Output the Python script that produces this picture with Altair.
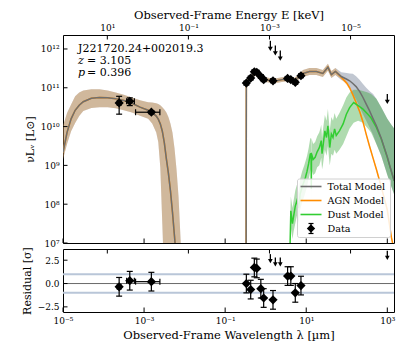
import math
import altair as alt
import pandas as pd

FONT = "DejaVu Serif"

# ---------------- data (log10 of wavelength [µm] and of nuL_nu [L_sun]) ----------------
# X-ray model segment (total model == AGN model here)
xray_loglam = [-5.0, -4.9, -4.8, -4.7, -4.6, -4.5, -4.3, -4.1, -3.9, -3.7, -3.5, -3.3, -3.1,
               -2.9, -2.8, -2.7, -2.65, -2.6, -2.55, -2.5, -2.45, -2.4, -2.35, -2.3, -2.25,
               -2.2, -2.15, -2.1, -2.05]
xray_total = [9.33, 9.85, 10.2, 10.42, 10.55, 10.64, 10.73, 10.75, 10.74, 10.72, 10.67, 10.60, 10.50,
              10.42, 10.36, 10.27, 10.19, 10.07, 9.88, 9.58, 9.17, 8.8, 8.35, 7.8, 7.18,
              6.5, 6.0, 6.0, 6.0]
xray_lo = [9.16, 9.55, 9.88, 10.09, 10.27, 10.40, 10.48, 10.50, 10.50, 10.47, 10.42, 10.36, 10.28,
           10.2, 10.08, 9.85, 9.6, 8.95, 7.49, 6.0, 6.0, 6.0, 6.0, 6.0, 6.0,
           6.0, 6.0, 6.0, 6.0]
xray_hi = [10.02, 10.35, 10.57, 10.78, 10.88, 10.93, 10.96, 10.96, 10.93, 10.88, 10.82, 10.75, 10.68,
           10.63, 10.62, 10.6, 10.58, 10.55, 10.5, 10.44, 10.36, 10.25, 10.08, 9.85, 9.45,
           8.9, 8.2, 7.1, 6.0]

# UV-optical-IR model segment
ir_loglam = [-0.485, -0.477, -0.42, -0.35, -0.3, -0.25, -0.2, -0.1, 0.0, 0.1, 0.2, 0.3, 0.4,
             0.5, 0.6, 0.7, 0.8, 0.92, 1.08, 1.25, 1.41, 1.535, 1.62, 1.72, 1.865,
             2.0, 2.07, 2.15, 2.23, 2.32, 2.40, 2.48, 2.56, 2.65, 2.73, 2.85, 3.0, 3.1, 3.17]
ir_total = [5.0, 11.12, 11.20, 11.28, 11.34, 11.37, 11.33, 11.25, 11.21, 11.19, 11.18, 11.19, 11.21,
            11.22, 11.20, 11.19, 11.27, 11.37, 11.42, 11.42, 11.37, 11.53, 11.34, 11.42, 11.29,
            11.22, 11.18, 11.11, 11.03, 10.90, 10.75, 10.58, 10.41, 10.20, 10.02, 9.70, 9.22, 8.85, 8.60]
ir_total_hi = [5.0, 11.18, 11.26, 11.34, 11.40, 11.43, 11.39, 11.31, 11.27, 11.25, 11.24, 11.25, 11.27,
               11.28, 11.26, 11.25, 11.33, 11.46, 11.51, 11.51, 11.46, 11.62, 11.43, 11.51, 11.40,
               11.38, 11.37, 11.36, 11.30, 11.20, 11.10, 11.00, 10.92, 10.84, 10.72, 10.50, 10.20, 10.05, 9.95]
ir_total_lo = [5.0, 11.06, 11.14, 11.22, 11.28, 11.31, 11.27, 11.19, 11.15, 11.13, 11.12, 11.13, 11.15,
               11.16, 11.14, 11.13, 11.21, 11.28, 11.33, 11.33, 11.28, 11.44, 11.25, 11.33, 11.20,
               11.12, 11.00, 10.85, 10.70, 10.50, 10.32, 10.15, 9.98, 9.78, 9.55, 9.25, 8.75, 8.45, 8.25]
ir_agn = [5.0, 11.12, 11.20, 11.28, 11.34, 11.37, 11.33, 11.25, 11.21, 11.19, 11.18, 11.19, 11.21,
          11.22, 11.20, 11.19, 11.27, 11.37, 11.42, 11.42, 11.37, 11.53, 11.34, 11.42, 11.27,
          11.12, 11.00, 10.82, 10.62, 10.38, 10.12, 9.80, 9.50, 9.18, 8.90, 8.45, 7.85, 7.15, 6.80]
ir_agn_hi = [5.0, 11.18, 11.26, 11.34, 11.40, 11.43, 11.39, 11.31, 11.27, 11.25, 11.24, 11.25, 11.27,
             11.28, 11.26, 11.25, 11.33, 11.46, 11.51, 11.51, 11.46, 11.62, 11.43, 11.51, 11.32,
             11.17, 11.05, 10.87, 10.67, 10.43, 10.17, 9.85, 9.55, 9.23, 8.95, 8.50, 7.90, 7.20, 6.85]
ir_agn_lo = [5.0, 11.06, 11.14, 11.22, 11.28, 11.31, 11.27, 11.19, 11.15, 11.13, 11.12, 11.13, 11.15,
             11.16, 11.14, 11.13, 11.21, 11.28, 11.33, 11.33, 11.28, 11.44, 11.25, 11.33, 11.22,
             11.07, 10.95, 10.77, 10.57, 10.33, 10.07, 9.75, 9.45, 9.13, 8.85, 8.40, 7.80, 7.10, 6.75]

# dust model
dust_loglam = [0.60, 0.62, 0.66, 0.69, 0.73, 0.77, 0.81, 0.85, 0.90, 0.95, 0.98, 1.02, 1.06, 1.10,
               1.12, 1.125, 1.13, 1.17, 1.22, 1.27, 1.32, 1.35, 1.37, 1.39, 1.41, 1.46, 1.50, 1.535,
               1.58, 1.62, 1.66, 1.70, 1.74, 1.82, 1.91, 1.99, 2.07, 2.17, 2.28, 2.40, 2.52, 2.60,
               2.73, 2.85, 3.0, 3.1, 3.17]
dust_val = [6.9, 7.83, 7.5, 7.70, 7.95, 8.09, 7.9, 8.26, 8.45, 8.6, 8.69, 8.85, 9.05, 9.29,
            9.3, 8.4, 9.3, 9.15, 9.21, 9.35, 9.45, 9.55, 9.64, 9.3, 9.46, 9.89, 9.72, 10.02,
            9.46, 9.81, 9.72, 9.94, 9.77, 9.89, 10.07, 10.32, 10.49, 10.62, 10.54, 10.45, 10.32, 10.22,
            9.98, 9.68, 9.2, 8.84, 8.6]
dust_lo = [6.5, 7.4, 7.1, 7.3, 7.5, 7.7, 7.5, 7.85, 8.05, 8.2, 8.3, 8.45, 8.65, 8.85,
           8.9, 8.0, 8.9, 8.75, 8.8, 8.95, 9.0, 9.1, 9.2, 8.9, 9.0, 9.4, 9.25, 9.5,
           9.0, 9.3, 9.25, 9.4, 9.3, 9.4, 9.55, 9.75, 9.95, 10.1, 10.15, 10.1, 9.95, 9.85,
           9.55, 9.25, 8.75, 8.45, 8.25]
dust_hi = [7.5, 8.2, 7.9, 8.1, 8.35, 8.5, 8.3, 8.65, 8.85, 9.0, 9.1, 9.25, 9.45, 9.7,
           9.7, 8.8, 9.7, 9.55, 9.6, 9.75, 9.85, 9.95, 10.05, 9.7, 9.9, 10.3, 10.15, 10.45,
           9.9, 10.25, 10.15, 10.35, 10.2, 10.35, 10.55, 10.75, 10.88, 10.95, 10.95, 10.92, 10.88, 10.84,
           10.72, 10.5, 10.2, 10.05, 9.95]

# photometric detections
det_loglam = [-3.615, -3.353, -2.82, -0.477, -0.37, -0.28, -0.22, -0.12, -0.05, 0.18, 0.54, 0.62, 0.73, 0.87]
det_logL = [10.61, 10.65, 10.37, 11.12, 11.25, 11.41, 11.40, 11.29, 11.21, 11.18, 11.24, 11.21, 11.14, 11.31]
det_logL_lo = [10.32, 10.54, 10.33, 11.07, 11.20, 11.36, 11.35, 11.24, 11.16, 11.13, 11.19, 11.16, 11.09, 11.26]
det_logL_hi = [10.78, 10.74, 10.41, 11.17, 11.30, 11.46, 11.45, 11.34, 11.26, 11.23, 11.29, 11.26, 11.19, 11.36]
det_resid = [-0.35, 0.3, 0.2, 0.0, -0.65, 1.72, 1.62, -0.55, -1.55, -1.75, 0.8, 0.8, -1.0, -0.22]
det_resid_err = [1.0] * 14
# X-ray band widths (log10 wavelength limits)
xerr_logL = [10.61, 10.65, 10.37]
xerr_resid = [-0.35, 0.3, 0.2]
xerr_lo = [-3.66, -3.43, -3.21]
xerr_hi = [-3.57, -3.24, -2.61]

# upper limits
ul_loglam = [0.115, 0.238, 0.36, 3.0]
ul_logL = [12.21, 12.09, 11.96, 10.84]
ul_resid = [3.15, 2.8, 2.8, 3.5]

# axis ticks / labels
lam_decades = [-5, -3, -1, 1, 3]
lum_decades = [7, 8, 9, 10, 11, 12]
energy_decades = [1, -1, -3, -5]       # keV
resid_ticks = [-2.5, 0.0, 2.5]
HC_KEV_UM = 1.23984e-3                 # E[keV] * lambda[um]

legend_labels = ["Total Model", "AGN Model", "Dust Model", "Data"]
legend_colors = ["#6f6f6f", "#ff8c00", "#32cd32"]

source_name = "J221720.24+002019.3"
redshift = "3.105"
pvalue = "0.396"

# ---------------- helpers ----------------
SUP = {'-': '⁻', '0': '⁰', '1': '¹', '2': '²', '3': '³', '4': '⁴',
       '5': '⁵', '6': '⁶', '7': '⁷', '8': '⁸', '9': '⁹'}


def pow10(n):
    return '10' + ''.join(SUP[c] for c in str(n))


def label_expr(pairs):
    expr = "''"
    for e, lab in reversed(pairs):
        expr = f"round(log(datum.value)/LN10) == {e} ? '{lab}' : {expr}"
    return expr


def p10(v):
    return [10 ** x for x in v]


W, H1, H2 = 331, 208, 63
TL = 4.5  # inward tick length

xscale = alt.Scale(type='log', domain=[1e-5, 10 ** 3.165], nice=False)
yscale = alt.Scale(type='log', domain=[1e7, 10 ** 12.36], nice=False)
rscale = alt.Scale(domain=[-3.05, 3.7], nice=False, zero=False)

energy_lam = [HC_KEV_UM / 10 ** e for e in energy_decades]
energy_pairs = [(round(math.log10(l)), pow10(e)) for l, e in zip(energy_lam, energy_decades)]

axis_common = dict(ticks=False, tickSize=0, domain=False, grid=False, labelOverlap=False,
                   labelFlush=False, labelFont=FONT, titleFont=FONT, labelFontSize=9,
                   labelColor='black', titleColor='black', titleFontWeight='normal')

top_axis = alt.Axis(orient='top', values=energy_lam, labelExpr=label_expr(energy_pairs),
                    title='Observed-Frame Energy E [keV]', labelPadding=3, titlePadding=3,
                    titleFontSize=11.5, **axis_common)
ymain_axis = alt.Axis(values=p10(lum_decades),
                      labelExpr=label_expr([(d, pow10(d)) for d in lum_decades]),
                      title='νLᵥ [L⊙]', labelPadding=4, titlePadding=5, titleFontSize=11,
                      **axis_common)
bottom_axis = alt.Axis(orient='bottom', values=p10(lam_decades),
                       labelExpr=label_expr([(d, pow10(d)) for d in lam_decades]),
                       title='Observed-Frame Wavelength λ [µm]', labelPadding=4, titlePadding=4,
                       titleFontSize=11.5, **axis_common)
yres_axis = alt.Axis(values=resid_ticks, labelExpr="replace(format(datum.value, '.1f'), '-', '−')",
                     title='Residual [σ]', labelPadding=4, titlePadding=5, titleFontSize=11,
                     **axis_common)


def XM(f):
    return alt.X(f'{f}:Q', scale=xscale, axis=top_axis)


def YM(f):
    return alt.Y(f'{f}:Q', scale=yscale, axis=ymain_axis)


def XR(f):
    return alt.X(f'{f}:Q', scale=xscale, axis=bottom_axis)


def YR(f):
    return alt.Y(f'{f}:Q', scale=rscale, axis=yres_axis)


# ---------------- dataframes ----------------
tot_band = pd.concat([
    pd.DataFrame({'seg': 'x', 'lam': p10(xray_loglam), 'lo': p10(xray_lo), 'hi': p10(xray_hi)}),
    pd.DataFrame({'seg': 'ir', 'lam': p10(ir_loglam), 'lo': p10(ir_total_lo), 'hi': p10(ir_total_hi)}),
])
agn_band = pd.concat([
    pd.DataFrame({'seg': 'x', 'lam': p10(xray_loglam), 'lo': p10(xray_lo), 'hi': p10(xray_hi)}),
    pd.DataFrame({'seg': 'ir', 'lam': p10(ir_loglam), 'lo': p10(ir_agn_lo), 'hi': p10(ir_agn_hi)}),
])
dust_band = pd.DataFrame({'seg': 'd', 'lam': p10(dust_loglam), 'lo': p10(dust_lo), 'hi': p10(dust_hi)})

tot_line = pd.concat([
    pd.DataFrame({'seg': 'x', 'lam': p10(xray_loglam), 'v': p10(xray_total)}),
    pd.DataFrame({'seg': 'ir', 'lam': p10(ir_loglam), 'v': p10(ir_total)}),
])
agn_line = pd.concat([
    pd.DataFrame({'seg': 'x', 'lam': p10(xray_loglam), 'v': p10(xray_total)}),
    pd.DataFrame({'seg': 'ir', 'lam': p10(ir_loglam), 'v': p10(ir_agn)}),
])
dust_line = pd.DataFrame({'seg': 'd', 'lam': p10(dust_loglam), 'v': p10(dust_val)})

det = pd.DataFrame({'lam': p10(det_loglam), 'v': p10(det_logL), 'lo': p10(det_logL_lo),
                    'hi': p10(det_logL_hi), 'r': det_resid,
                    'rlo': [r - e for r, e in zip(det_resid, det_resid_err)],
                    'rhi': [r + e for r, e in zip(det_resid, det_resid_err)]})
xerr = pd.DataFrame({'v': p10(xerr_logL), 'r': xerr_resid, 'xlo': p10(xerr_lo), 'xhi': p10(xerr_hi)})
ul = pd.DataFrame({'lam': p10(ul_loglam), 'v': p10(ul_logL), 'r': ul_resid})

lam_ticks = pd.DataFrame({'t': p10(lam_decades)})
en_ticks = pd.DataFrame({'t': energy_lam})
lum_ticks = pd.DataFrame({'t': p10(lum_decades)})
res_ticks = pd.DataFrame({'t': resid_ticks})
one = pd.DataFrame({'a': [0]})

# ---------------- main panel ----------------
BLK = 'black'
layers = []
layers.append(alt.Chart(tot_band).mark_area(color='#64738c', opacity=0.4, clip=True).encode(
    x=XM('lam'), y=YM('lo'), y2='hi:Q', detail='seg:N'))
layers.append(alt.Chart(agn_band).mark_area(color='#ff8c00', opacity=0.25, clip=True).encode(
    x=XM('lam'), y=YM('lo'), y2='hi:Q', detail='seg:N'))
layers.append(alt.Chart(dust_band).mark_area(color='#2ca02c', opacity=0.38, clip=True).encode(
    x=XM('lam'), y=YM('lo'), y2='hi:Q', detail='seg:N'))
layers.append(alt.Chart(agn_line).mark_line(color=legend_colors[1], strokeWidth=1.5, clip=True).encode(
    x=XM('lam'), y=YM('v'), detail='seg:N'))
layers.append(alt.Chart(dust_line).mark_line(color=legend_colors[2], strokeWidth=1.5, clip=True).encode(
    x=XM('lam'), y=YM('v'), detail='seg:N'))
layers.append(alt.Chart(tot_line).mark_line(color=legend_colors[0], strokeWidth=1.5, clip=True).encode(
    x=XM('lam'), y=YM('v'), detail='seg:N'))
# error bars + points
layers.append(alt.Chart(det).mark_rule(color=BLK, strokeWidth=1.2).encode(x=XM('lam'), y=YM('lo'), y2='hi:Q'))
layers.append(alt.Chart(det).mark_tick(orient='horizontal', size=6, thickness=1.2, color=BLK, opacity=1).encode(
    x=XM('lam'), y=YM('lo')))
layers.append(alt.Chart(det).mark_tick(orient='horizontal', size=6, thickness=1.2, color=BLK, opacity=1).encode(
    x=XM('lam'), y=YM('hi')))
layers.append(alt.Chart(xerr).mark_rule(color=BLK, strokeWidth=1.2).encode(x=XM('xlo'), x2='xhi:Q', y=YM('v')))
layers.append(alt.Chart(xerr).mark_tick(orient='vertical', size=6, thickness=1.2, color=BLK, opacity=1).encode(
    x=XM('xlo'), y=YM('v')))
layers.append(alt.Chart(xerr).mark_tick(orient='vertical', size=6, thickness=1.2, color=BLK, opacity=1).encode(
    x=XM('xhi'), y=YM('v')))
layers.append(alt.Chart(det).mark_point(shape='diamond', filled=True, size=85, color=BLK, opacity=1).encode(
    x=XM('lam'), y=YM('v')))
# upper limits
layers.append(alt.Chart(ul).mark_rule(color=BLK, strokeWidth=1.3, y2Offset=7).encode(
    x=XM('lam'), y=YM('v'), y2='v:Q'))
layers.append(alt.Chart(ul).mark_point(shape='triangle-down', filled=True, size=24, color=BLK, opacity=1,
                                       yOffset=8).encode(x=XM('lam'), y=YM('v')))
# inward ticks
layers.append(alt.Chart(lum_ticks).mark_rule(color=BLK, strokeWidth=1).encode(
    y=YM('t'), x=alt.value(0), x2=alt.value(TL)))
layers.append(alt.Chart(lam_ticks).mark_rule(color=BLK, strokeWidth=1).encode(
    x=XM('t'), y=alt.value(H1 - TL), y2=alt.value(H1)))
layers.append(alt.Chart(en_ticks).mark_rule(color=BLK, strokeWidth=1).encode(
    x=XM('t'), y=alt.value(0), y2=alt.value(TL)))
# annotation
txt = dict(font=FONT, fontSize=11, color=BLK, align='left', baseline='alphabetic')
layers.append(alt.Chart(one).mark_text(text=source_name, **txt).encode(x=alt.value(15), y=alt.value(17)))
layers.append(alt.Chart(one).mark_text(text='z', fontStyle='italic', **txt).encode(x=alt.value(15), y=alt.value(29)))
layers.append(alt.Chart(one).mark_text(text='= ' + redshift, **txt).encode(x=alt.value(24), y=alt.value(29)))
layers.append(alt.Chart(one).mark_text(text='p', fontStyle='italic', **txt).encode(x=alt.value(15), y=alt.value(41)))
layers.append(alt.Chart(one).mark_text(text='= ' + pvalue, **txt).encode(x=alt.value(24), y=alt.value(41)))
# legend
LX0, LX1, LY0, LY1 = 234.5, 327.5, 144, 202.5
rows = [151.5, 165.5, 179.5, 193.5]
layers.append(alt.Chart(one).mark_rect(fill='white', fillOpacity=0.85, stroke='#d0d0d0', strokeWidth=1,
                                       cornerRadius=2).encode(
    x=alt.value(LX0), x2=alt.value(LX1), y=alt.value(LY0), y2=alt.value(LY1)))
for i, lab in enumerate(legend_labels):
    if i < 3:
        layers.append(alt.Chart(one).mark_rule(color=legend_colors[i], strokeWidth=1.6).encode(
            x=alt.value(237.5), x2=alt.value(258.5), y=alt.value(rows[i])))
    else:
        layers.append(alt.Chart(one).mark_rule(color=BLK, strokeWidth=1.2).encode(
            x=alt.value(248), y=alt.value(rows[i] - 5), y2=alt.value(rows[i] + 5)))
        for dy in (-5, 5):
            layers.append(alt.Chart(one).mark_rule(color=BLK, strokeWidth=1.2).encode(
                x=alt.value(245.5), x2=alt.value(250.5), y=alt.value(rows[i] + dy)))
        layers.append(alt.Chart(one).mark_point(shape='diamond', filled=True, size=70, color=BLK,
                                                opacity=1).encode(x=alt.value(248), y=alt.value(rows[i])))
    layers.append(alt.Chart(one).mark_text(text=lab, font=FONT, fontSize=9.6, color=BLK, align='left',
                                           baseline='middle').encode(x=alt.value(264.5), y=alt.value(rows[i])))

main = alt.layer(*layers).properties(width=W, height=H1)

# ---------------- residual panel ----------------
rl = []
rl.append(alt.Chart(pd.DataFrame({'t': [-1.0, 1.0]})).mark_rule(color='#b9c6d8', strokeWidth=2).encode(
    y=YR('t'), x=alt.value(0), x2=alt.value(W)))
rl.append(alt.Chart(pd.DataFrame({'t': [0.0]})).mark_rule(color='#6a6a6a', strokeWidth=1).encode(
    y=YR('t'), x=alt.value(0), x2=alt.value(W)))
rl.append(alt.Chart(det).mark_rule(color=BLK, strokeWidth=1.2).encode(x=XR('lam'), y=YR('rlo'), y2='rhi:Q'))
rl.append(alt.Chart(det).mark_tick(orient='horizontal', size=6, thickness=1.2, color=BLK, opacity=1).encode(
    x=XR('lam'), y=YR('rlo')))
rl.append(alt.Chart(det).mark_tick(orient='horizontal', size=6, thickness=1.2, color=BLK, opacity=1).encode(
    x=XR('lam'), y=YR('rhi')))
rl.append(alt.Chart(xerr).mark_rule(color=BLK, strokeWidth=1.2).encode(x=XR('xlo'), x2='xhi:Q', y=YR('r')))
rl.append(alt.Chart(xerr).mark_tick(orient='vertical', size=6, thickness=1.2, color=BLK, opacity=1).encode(
    x=XR('xlo'), y=YR('r')))
rl.append(alt.Chart(xerr).mark_tick(orient='vertical', size=6, thickness=1.2, color=BLK, opacity=1).encode(
    x=XR('xhi'), y=YR('r')))
rl.append(alt.Chart(det).mark_point(shape='diamond', filled=True, size=85, color=BLK, opacity=1).encode(
    x=XR('lam'), y=YR('r')))
rl.append(alt.Chart(ul).mark_rule(color=BLK, strokeWidth=1.3, y2Offset=6).encode(
    x=XR('lam'), y=YR('r'), y2='r:Q'))
rl.append(alt.Chart(ul).mark_point(shape='triangle-down', filled=True, size=22, color=BLK, opacity=1,
                                   yOffset=7).encode(x=XR('lam'), y=YR('r')))
rl.append(alt.Chart(res_ticks).mark_rule(color=BLK, strokeWidth=1).encode(
    y=YR('t'), x=alt.value(0), x2=alt.value(TL)))
rl.append(alt.Chart(lam_ticks).mark_rule(color=BLK, strokeWidth=1).encode(
    x=XR('t'), y=alt.value(H2 - TL), y2=alt.value(H2)))
rl.append(alt.Chart(en_ticks).mark_rule(color=BLK, strokeWidth=1).encode(
    x=XR('t'), y=alt.value(0), y2=alt.value(TL)))

resid = alt.layer(*rl).properties(width=W, height=H2)

chart = alt.vconcat(main, resid, spacing=6, bounds='flush').properties(
    padding={'left': 12, 'top': 0, 'right': 5, 'bottom': 5}
).configure_view(stroke='black', strokeWidth=1).configure_axis(grid=False)

chart.save("out.html", embed_options={"renderer": "svg", "actions": False})
